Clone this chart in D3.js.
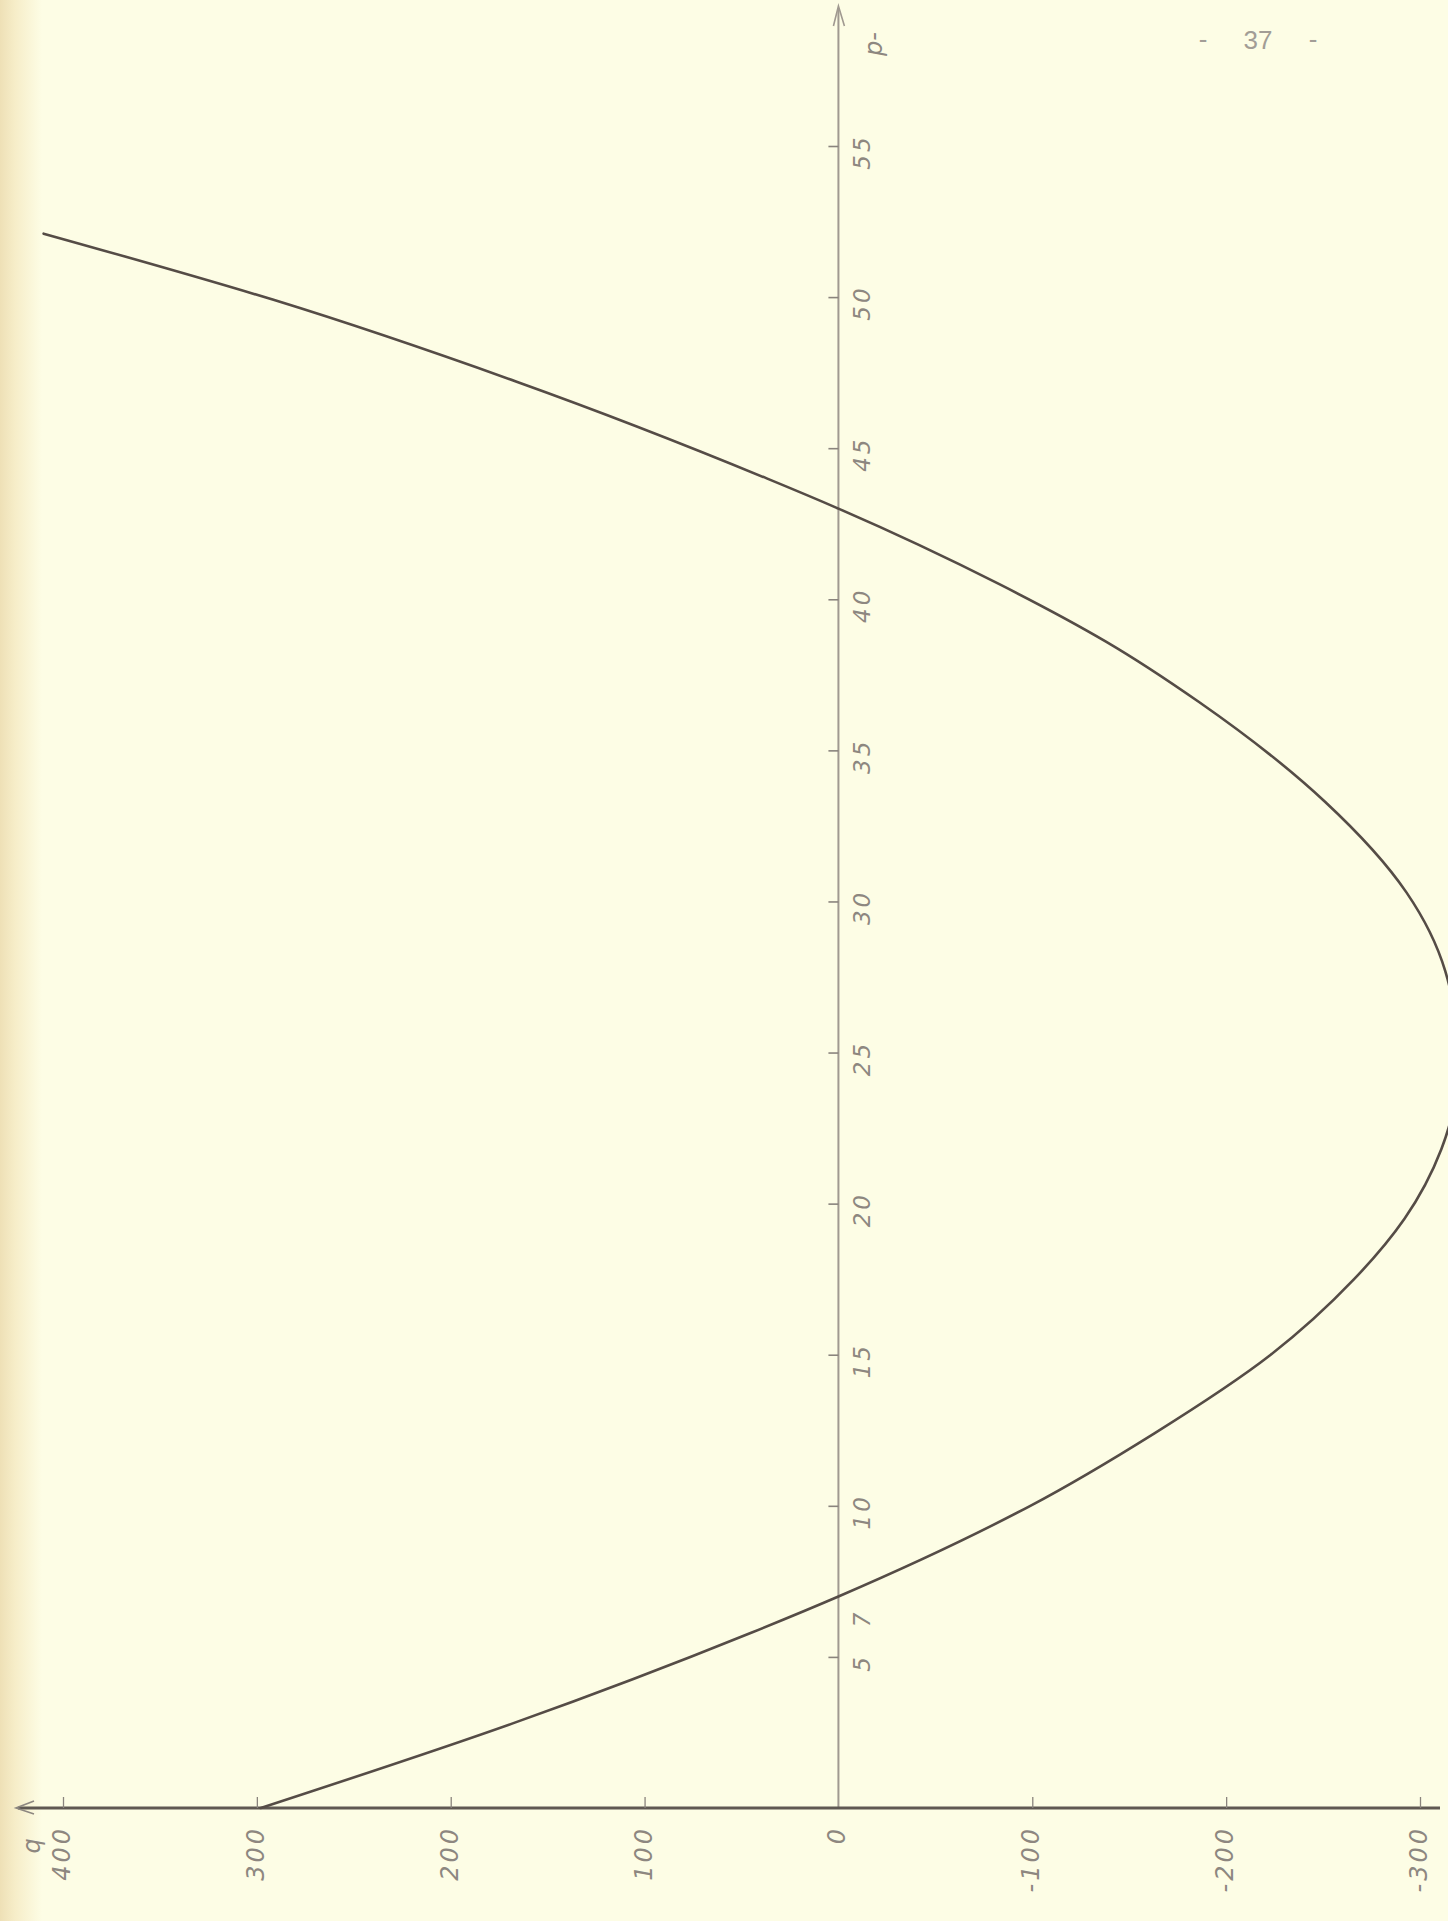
<!DOCTYPE html>
<html>
<head>
<meta charset="utf-8">
<script src="https://cdn.jsdelivr.net/npm/d3@7"></script>
<style>
html,body{margin:0;padding:0;background:#fdfde5;}
svg{display:block;}
</style>
</head>
<body>
<svg id="chart" width="1448" height="1921"></svg>
<script>
// ---- data ----
const pTicks = [5, 10, 15, 20, 25, 30, 35, 40, 45, 50, 55];
const pTickLabels = ["5", "10", "15", "20", "25", "30", "35", "40", "45", "50", "55"];
const pMarkValues = [7];
const pMarkLabels = ["7"];
const qTicks = [400, 300, 200, 100, -100, -200, -300];
const qLabelValues = [400, 300, 200, 100, 0, -100, -200, -300];
const qTickLabels = ["400", "300", "200", "100", "0", "-100", "-200", "-300"];
const curveP = [0, 2.8, 5.8, 7, 10, 12.4, 15, 17.5, 19.5, 21.8, 24.7, 27.7, 30.3, 33.3, 36.6, 38.6, 40.5, 43, 44, 47.2, 49.9, 52.1];
const curveQ = [298, 168, 45, 0, -99, -163, -223, -266, -292, -311, -320, -313, -293, -251, -186, -138, -83, 0, 37, 166, 291, 410];
const axisNames = ["p-", "q"];
const pageNumber = ["-", "37", "-"];

const W = 1448, H = 1921;
const svg = d3.select("#chart");

// background paper and binding shadow
const defs = svg.append("defs");
const grad = defs.append("linearGradient").attr("id", "bind").attr("x1", 0).attr("x2", 1).attr("y1", 0).attr("y2", 0);
grad.append("stop").attr("offset", 0).attr("stop-color", "#eee0b6");
grad.append("stop").attr("offset", 0.35).attr("stop-color", "#f6edc8");
grad.append("stop").attr("offset", 1).attr("stop-color", "#fdfde5");
svg.append("rect").attr("width", W).attr("height", H).attr("fill", "#fdfde5");
svg.append("rect").attr("width", 42).attr("height", H).attr("fill", "url(#bind)");

// scales: q runs horizontally (400 at left), p runs vertically (0 at bottom)
const x = d3.scaleLinear().domain([400, -300]).range([63, 1420]);
const y = d3.scaleLinear().domain([0, 55]).range([1808, 146]);

const labelColor = "#8d8780";
const labelFont = "'DejaVu Sans', sans-serif";

// p axis (vertical, at q = 0)
svg.append("line")
  .attr("x1", x(0)).attr("x2", x(0))
  .attr("y1", y(0)).attr("y2", 8)
  .attr("stroke", "#a09990").attr("stroke-width", 2);
svg.append("path")
  .attr("d", `M${x(0) - 5},26 L${x(0)},6 L${x(0) + 6},26`)
  .attr("fill", "none").attr("stroke", "#a09990").attr("stroke-width", 1.6);

const pAxis = d3.axisLeft(y).tickValues(pTicks).tickSize(10).tickFormat("");
const gp = svg.append("g").attr("transform", `translate(${x(0)},0)`).call(pAxis);
gp.select(".domain").remove();
gp.selectAll(".tick line").attr("stroke", "#8a847d").attr("stroke-width", 1.6);

// p tick labels (rotated, as on the turned page)
svg.append("g").selectAll("text")
  .data(pTicks.map((v, i) => ({v, t: pTickLabels[i]})).concat(pMarkValues.map((v, i) => ({v, t: pMarkLabels[i], mark: true}))))
  .join("text")
  .attr("transform", d => `translate(${x(0) + 32},${y(d.v) + (d.mark ? 22 : 6)}) rotate(-90)`)
  .attr("text-anchor", "middle")
  .attr("font-family", labelFont)
  .attr("font-style", "oblique")
  .attr("font-size", 23)
  .attr("letter-spacing", 3)
  .attr("fill", labelColor)
  .text(d => d.t);

// q axis (horizontal, at p = 0)
svg.append("line")
  .attr("x1", 18).attr("x2", 1440)
  .attr("y1", y(0)).attr("y2", y(0))
  .attr("stroke", "#5f5852").attr("stroke-width", 3.2);
svg.append("path")
  .attr("d", `M34,${y(0) - 7} L16,${y(0)} L34,${y(0) + 6}`)
  .attr("fill", "none").attr("stroke", "#8d8780").attr("stroke-width", 1.6);

const qAxis = d3.axisTop(x).tickValues(qTicks).tickSize(11).tickFormat("");
const gq = svg.append("g").attr("transform", `translate(0,${y(0)})`).call(qAxis);
gq.select(".domain").remove();
gq.selectAll(".tick line").attr("stroke", "#8a847d").attr("stroke-width", 1.3);

svg.append("g").selectAll("text")
  .data(qLabelValues.map((v, i) => ({v, t: qTickLabels[i]})))
  .join("text")
  .attr("transform", d => `translate(${x(d.v) + 7},${y(0) + 18}) rotate(-90)`)
  .attr("text-anchor", "end")
  .attr("font-family", labelFont)
  .attr("font-style", "oblique")
  .attr("font-size", 24)
  .attr("letter-spacing", 3)
  .attr("fill", labelColor)
  .text(d => d.t);

// axis names
svg.append("text")
  .attr("transform", `translate(${x(0) + 44},44) rotate(-90)`)
  .attr("text-anchor", "middle")
  .attr("font-family", labelFont).attr("font-style", "oblique")
  .attr("font-size", 24).attr("fill", labelColor)
  .text(axisNames[0]);
svg.append("text")
  .attr("transform", `translate(40,1846) rotate(-90)`)
  .attr("text-anchor", "middle")
  .attr("font-family", labelFont).attr("font-style", "oblique")
  .attr("font-size", 24).attr("fill", labelColor)
  .text(axisNames[1]);

// the curve
const pts = curveP.map((p, i) => ({p, q: curveQ[i]}));
const line = d3.line()
  .x(d => x(d.q))
  .y(d => y(d.p))
  .curve(d3.curveMonotoneY);
svg.append("path")
  .datum(pts)
  .attr("d", line)
  .attr("fill", "none")
  .attr("stroke", "#554c46")
  .attr("stroke-width", 2.6)
  .attr("stroke-linecap", "round");

// page number
const pn = svg.append("g")
  .attr("font-family", "'Liberation Sans', sans-serif")
  .attr("font-size", 26)
  .attr("fill", "#a29d96")
  .attr("text-anchor", "middle");
pn.append("text").attr("x", 1203).attr("y", 48).text(pageNumber[0]);
pn.append("text").attr("x", 1258).attr("y", 49).text(pageNumber[1]);
pn.append("text").attr("x", 1313).attr("y", 48).text(pageNumber[2]);
</script>
</body>
</html>
